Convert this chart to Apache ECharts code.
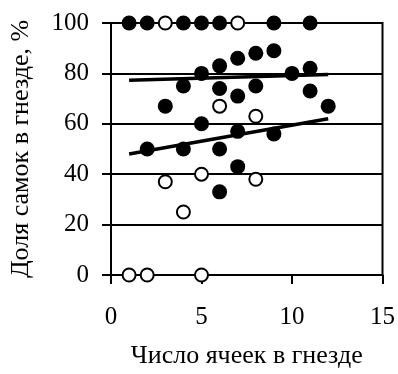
<!DOCTYPE html>
<html>
<head>
<meta charset="utf-8">
<script src="https://cdn.jsdelivr.net/npm/echarts@6/dist/echarts.min.js"></script>
<style>html,body{margin:0;padding:0;background:#fff;}#c{width:398px;height:374px;}</style>
</head>
<body>
<div id="c"></div>
<script>
// Filled circles (x = number of cells, y = share of females, %)
const filledX = [1, 2, 4, 5, 6, 9, 11, 5, 6, 7, 8, 9, 10, 11, 4, 6, 7, 8, 11, 3, 12, 5, 7, 9, 2, 4, 6, 7, 6];
const filledY = [100, 100, 100, 100, 100, 100, 100, 80, 83, 86, 88, 89, 80, 82, 75, 74, 71, 75, 73, 67, 67, 60, 57, 56, 50, 50, 50, 43, 33];
// Open circles
const openX = [3, 7, 6, 8, 3, 5, 8, 4, 1, 2, 5];
const openY = [100, 100, 67, 63, 37, 40, 38, 25, 0, 0, 0];
// Trend lines
const trendX = [1, 12];
const upperTrendY = [77.3, 79.6];
const lowerTrendY = [48, 62];
// Axis ticks
const xTicks = [0, 5, 10, 15];
const yTicks = [0, 20, 40, 60, 80, 100];

const zip = (a, b) => a.map((v, i) => [v, b[i]]);
const font = 'Liberation Serif';
const chart = echarts.init(document.getElementById('c'));
chart.setOption({
  animation: false,
  grid: { left: 111, right: 15, top: 23, bottom: 96, show: true, borderColor: '#000', borderWidth: 2 },
  xAxis: {
    type: 'value', min: xTicks[0], max: xTicks[xTicks.length - 1], interval: 5,
    name: 'Число ячеек в гнезде', nameLocation: 'middle', nameGap: 68,
    nameTextStyle: { fontFamily: font, fontSize: 26, color: '#000' },
    axisLine: { lineStyle: { color: '#000', width: 2 } },
    axisTick: { show: true, length: 9, lineStyle: { color: '#000', width: 2 } },
    axisLabel: { margin: 30, fontFamily: font, fontSize: 25, color: '#000' },
    splitLine: { show: false }
  },
  yAxis: {
    type: 'value', min: yTicks[0], max: yTicks[yTicks.length - 1], interval: 20,
    name: 'Доля самок в гнезде, %', nameLocation: 'middle', nameGap: 77,
    nameTextStyle: { fontFamily: font, fontSize: 26, color: '#000' },
    axisLine: { show: true, lineStyle: { color: '#000', width: 2 } },
    axisTick: { show: true, length: 9, lineStyle: { color: '#000', width: 2 } },
    axisLabel: { margin: 22, fontFamily: font, fontSize: 25, color: '#000' },
    splitLine: { show: true, lineStyle: { color: '#000', width: 2 } }
  },
  series: [
    {
      type: 'scatter', data: zip(filledX, filledY), symbol: 'circle', symbolSize: 15,
      itemStyle: { color: '#000', opacity: 1 }, z: 3
    },
    {
      type: 'scatter', data: zip(openX, openY), symbol: 'circle', symbolSize: 13,
      itemStyle: { color: '#fff', borderColor: '#000', borderWidth: 2, opacity: 1 }, z: 3
    },
    {
      type: 'line', data: zip(trendX, upperTrendY), symbol: 'none',
      lineStyle: { color: '#000', width: 3.5 }, z: 4
    },
    {
      type: 'line', data: zip(trendX, lowerTrendY), symbol: 'none',
      lineStyle: { color: '#000', width: 3.5 }, z: 4
    }
  ]
});
</script>
</body>
</html>
